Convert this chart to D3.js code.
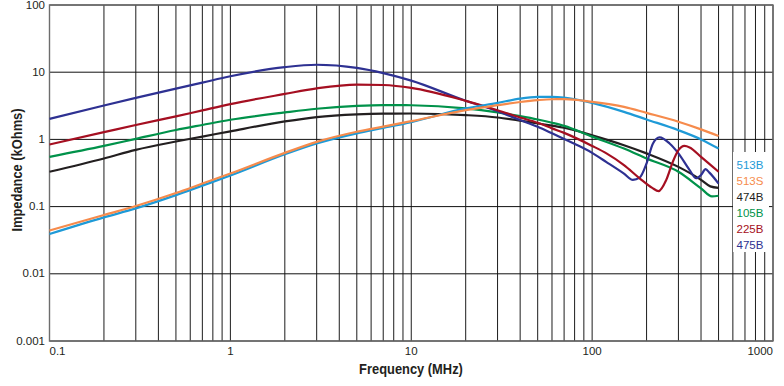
<!DOCTYPE html>
<html>
<head>
<meta charset="utf-8">
<script src="https://cdn.jsdelivr.net/npm/d3@7"></script>
<style>
	body { margin: 0; background: #fff; }
	text { font-family: "Liberation Sans", Arial, Helvetica, sans-serif; fill: #231f20; }
</style>
</head>
<body>
<div id="chart"></div>
<script>
// impedance curves, [frequency MHz, impedance kOhms]
const s513B = [[0.1, 0.039], [0.2, 0.069], [0.3, 0.094], [0.5, 0.148], [0.7, 0.205], [1, 0.29], [2, 0.6], [3, 0.87], [5, 1.23], [7, 1.48], [10, 1.81], [20, 2.89], [30, 3.5], [40, 4.04], [50, 4.28], [60, 4.3], [70, 4.2], [100, 3.5], [150, 2.57], [200, 1.98], [300, 1.37], [400, 1.0], [500, 0.73]];
const s513S = [[0.1, 0.044], [0.2, 0.075], [0.3, 0.102], [0.5, 0.159], [0.7, 0.22], [1, 0.31], [2, 0.63], [3, 0.92], [5, 1.3], [7, 1.55], [10, 1.87], [20, 2.72], [30, 3.23], [40, 3.6], [50, 3.84], [60, 3.96], [70, 3.97], [100, 3.62], [150, 3.05], [200, 2.48], [300, 1.83], [400, 1.41], [500, 1.12]];
const s474B = [[0.1, 0.33], [0.2, 0.52], [0.3, 0.70], [0.5, 0.93], [0.7, 1.1], [1, 1.32], [2, 1.85], [3, 2.15], [5, 2.36], [7, 2.42], [10, 2.43], [20, 2.3], [30, 2.12], [40, 1.9], [50, 1.73], [60, 1.6], [70, 1.49], [100, 1.15], [150, 0.82], [200, 0.62], [300, 0.39], [400, 0.25], [450, 0.2], [500, 0.19]];
const s105B = [[0.1, 0.55], [0.2, 0.8], [0.3, 1.02], [0.5, 1.38], [0.7, 1.64], [1, 1.96], [2, 2.52], [3, 2.86], [5, 3.15], [7, 3.24], [10, 3.22], [20, 2.89], [30, 2.52], [40, 2.22], [50, 1.98], [60, 1.77], [70, 1.59], [100, 1.1], [150, 0.73], [200, 0.52], [300, 0.33], [400, 0.187], [460, 0.142], [500, 0.145]];
const s225B = [[0.1, 0.84], [0.2, 1.28], [0.3, 1.64], [0.5, 2.2], [0.7, 2.7], [1, 3.35], [2, 4.75], [3, 5.75], [5, 6.55], [7, 6.45], [10, 5.85], [20, 3.75], [30, 2.72], [40, 2.12], [50, 1.77], [60, 1.46], [70, 1.25], [100, 0.8], [120, 0.62], [150, 0.415], [183, 0.264], [215, 0.19], [233, 0.17], [257, 0.25], [279, 0.46], [300, 0.69], [324, 0.8], [346, 0.76], [400, 0.55], [500, 0.33]];
const s475B = [[0.1, 2.02], [0.2, 3.2], [0.3, 4.15], [0.5, 5.7], [0.7, 7.0], [1, 8.7], [2, 11.9], [3, 12.9], [5, 11.6], [7, 9.7], [10, 7.5], [20, 3.75], [30, 2.63], [40, 1.94], [50, 1.54], [60, 1.23], [70, 1.01], [100, 0.63], [120, 0.46], [150, 0.31], [168, 0.25], [183, 0.27], [200, 0.44], [217, 0.87], [236, 1.07], [268, 0.87], [300, 0.62], [346, 0.35], [376, 0.264], [400, 0.295], [424, 0.36], [445, 0.32], [500, 0.22]];

const seriesNames = ['513B', '513S', '474B', '105B', '225B', '475B'];
const seriesValues = [s513B, s513S, s474B, s105B, s225B, s475B];

const xTickValues = [0.1, 1, 10, 100, 1000];
const xTickLabels = ['0.1', '1', '10', '100', '1000'];
const yTickValues = [0.001, 0.01, 0.1, 1, 10, 100];
const yTickLabels = ['0.001', '0.01', '0.1', '1', '10', '100'];

const colors = {
	'513B': '#1e9ad7',
	'513S': '#f68b4c',
	'474B': '#231f20',
	'105B': '#00924a',
	'225B': '#a50f21',
	'475B': '#2e3192'
};

const plot = { left: 49.5, right: 773, top: 5, bottom: 341 };

const svg = d3.select('#chart')
	.append('svg')
	.attr('width', 784)
	.attr('height', 386);

const x = d3.scaleLog().domain([0.1, 1000]).range([plot.left, plot.right]);
const y = d3.scaleLog().domain([0.001, 100]).range([plot.bottom, plot.top]);

// vertical grid + x labels
const xAxis = svg.append('g')
	.attr('transform', 'translate(0,' + plot.bottom + ')')
	.call(
		d3.axisBottom(x)
			.tickValues(x.ticks())
			.tickSize(-(plot.bottom - plot.top))
			.tickPadding(6)
			.offset(0)
			.tickFormat((d) => {
				const i = xTickValues.findIndex((v) => Math.abs(v - d) < v * 1e-6);
				return i < 0 ? '' : xTickLabels[i];
			})
	);
xAxis.select('.domain').remove();
xAxis.selectAll('line').attr('stroke', '#1c1c1c').attr('stroke-width', 1);
xAxis.selectAll('text')
	.attr('font-size', '11.5px')
	.attr('text-anchor', (d) => d === 0.1 ? 'start' : d === 1000 ? 'end' : 'middle');

// horizontal grid + y labels
const yAxis = svg.append('g')
	.attr('transform', 'translate(' + plot.left + ',0)')
	.call(
		d3.axisLeft(y)
			.tickValues(yTickValues)
			.tickSize(-(plot.right - plot.left))
			.tickPadding(4.5)
			.offset(0)
			.tickFormat((d, i) => yTickLabels[i])
	);
yAxis.select('.domain').remove();
yAxis.selectAll('line').attr('stroke', '#111').attr('stroke-width', 1);
yAxis.selectAll('text').attr('font-size', '11.5px');

svg.append('rect')
	.attr('x', plot.left)
	.attr('y', plot.top)
	.attr('width', plot.right - plot.left)
	.attr('height', plot.bottom - plot.top)
	.attr('fill', 'none')
	.attr('stroke', '#6d6d6d')
	.attr('stroke-width', 1.4);

const line = d3.line()
	.x((d) => x(d[0]))
	.y((d) => y(d[1]))
	.curve(d3.curveMonotoneX);

const drawOrder = ['474B', '105B', '475B', '225B', '513B', '513S'];

svg.append('g')
	.selectAll('path')
	.data(drawOrder)
	.enter()
	.append('path')
	.attr('d', (name) => line(seriesValues[seriesNames.indexOf(name)]))
	.attr('fill', 'none')
	.attr('stroke', (name) => colors[name])
	.attr('stroke-width', 2.2)
	.attr('stroke-linejoin', 'round');

// legend
const legend = svg.append('g').attr('id', 'legend');

legend.append('rect')
	.attr('x', 733)
	.attr('y', 152)
	.attr('width', 36)
	.attr('height', 100)
	.attr('fill', '#fff');

legend.selectAll('text')
	.data(seriesNames)
	.enter()
	.append('text')
	.attr('x', 736.5)
	.attr('y', (d, i) => 169 + i * 16)
	.attr('font-size', '11.5px')
	.style('fill', (d) => colors[d])
	.text((d) => d);

// axis titles
svg.append('text')
	.attr('transform', 'translate(411,374) scale(0.86,1)')
	.attr('text-anchor', 'middle')
	.attr('font-size', '15px')
	.attr('font-weight', 'bold')
	.text('Frequency (MHz)');

svg.append('text')
	.attr('transform', 'translate(22,170) rotate(-90) scale(0.86,1)')
	.attr('text-anchor', 'middle')
	.attr('font-size', '15px')
	.attr('font-weight', 'bold')
	.text('Impedance (kOhms)');
</script>
</body>
</html>
